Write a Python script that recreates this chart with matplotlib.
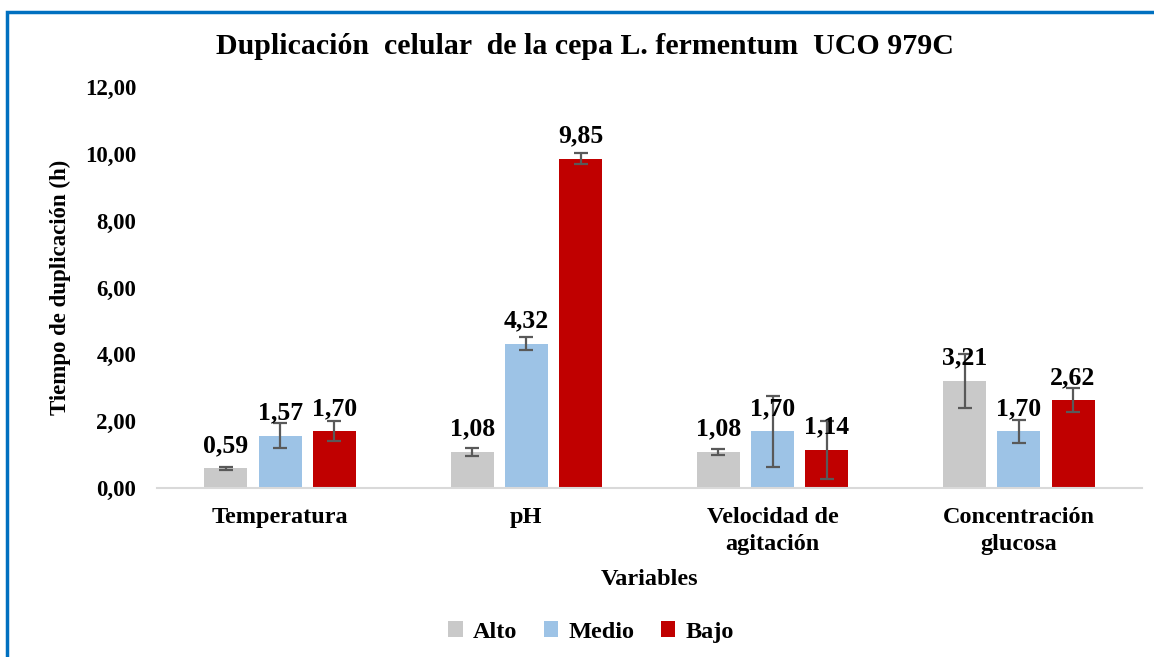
import matplotlib
matplotlib.use("Agg")
import matplotlib.pyplot as plt
from matplotlib.patches import Rectangle
import numpy as np

# ============ 数据 ============
categorias = ["Temperatura", "pH", "Velocidad de\nagitación", "Concentración\nglucosa"]
niveles = ["Alto", "Medio", "Bajo"]
alto = [0.59, 1.08, 1.08, 3.21]
medio = [1.57, 4.32, 1.70, 1.70]
bajo = [1.70, 9.85, 1.14, 2.62]
err_alto = [0.05, 0.11, 0.10, 0.81]
err_medio = [0.38, 0.20, 1.06, 0.34]
err_bajo = [0.30, 0.16, 0.87, 0.36]
yticks = [0, 2, 4, 6, 8, 10, 12]

colores = ["#C9C9C9", "#9DC3E6", "#C00000"]

plt.rcParams["font.family"] = ["Liberation Serif", "DejaVu Serif"]
plt.rcParams["font.weight"] = "bold"

fig = plt.figure(figsize=(11.54, 6.57), dpi=100)
ax = fig.add_axes([157 / 1154, 1 - 488 / 657, 985 / 1154, 401 / 657])

# marco azul alrededor del gráfico
fig.patches.append(Rectangle((7 / 1154, -0.05), 1.1, 1 - 12 / 657 + 0.05,
                             transform=fig.transFigure, fill=False,
                             edgecolor="#0070C0", linewidth=2.5))

x = np.arange(len(categorias))
w = 0.175
paso = 0.22
series = [alto, medio, bajo]
errores = [err_alto, err_medio, err_bajo]
for i, (vals, errs, col, nom) in enumerate(zip(series, errores, colores, niveles)):
    pos = x + (i - 1) * paso
    bars = ax.bar(pos, vals, width=w, color=col, label=nom, zorder=2)
    ax.errorbar(pos, vals, yerr=errs, fmt="none", ecolor="#595959",
                elinewidth=1.6, capsize=5, capthick=1.6, zorder=3)
    for b, v in zip(bars, vals):
        ax.annotate(f"{v:.2f}".replace(".", ","),
                    (b.get_x() + b.get_width() / 2, v),
                    xytext=(0, 8), textcoords="offset points",
                    ha="center", va="bottom", fontsize=18.5, fontweight="bold",
                    zorder=4)

ax.set_xlim(-0.5, len(categorias) - 0.5)
ax.set_ylim(0, 12)
ax.set_yticks(yticks)
ax.set_yticklabels([f"{t:.2f}".replace(".", ",") for t in yticks], fontsize=16.5)
ax.set_xticks(x)
ax.set_xticklabels(categorias, fontsize=17.5, linespacing=1.35)
ax.tick_params(axis="x", length=0, pad=14)
ax.tick_params(axis="y", length=0, pad=15)

for s in ["top", "right", "left"]:
    ax.spines[s].set_visible(False)
ax.spines["bottom"].set_color("#D9D9D9")
ax.spines["bottom"].set_linewidth(1.5)

ax.set_ylabel("Tiempo de duplicación (h)", fontsize=16.5, fontweight="bold", labelpad=10)
ax.set_xlabel("Variables", fontsize=17.5, fontweight="bold", labelpad=10)

fig.text(585 / 1154, 1 - 46 / 657, "Duplicación  celular  de la cepa L. fermentum  UCO 979C",
         ha="center", va="center", fontsize=21.5, fontweight="bold")

fig.legend(loc="center", bbox_to_anchor=(591 / 1154, 1 - 632 / 657), ncol=3,
           frameon=False, fontsize=17.5, handlelength=0.6, handleheight=0.6,
           handletextpad=0.4, columnspacing=1.1)

fig.savefig("out.png", dpi=100)
